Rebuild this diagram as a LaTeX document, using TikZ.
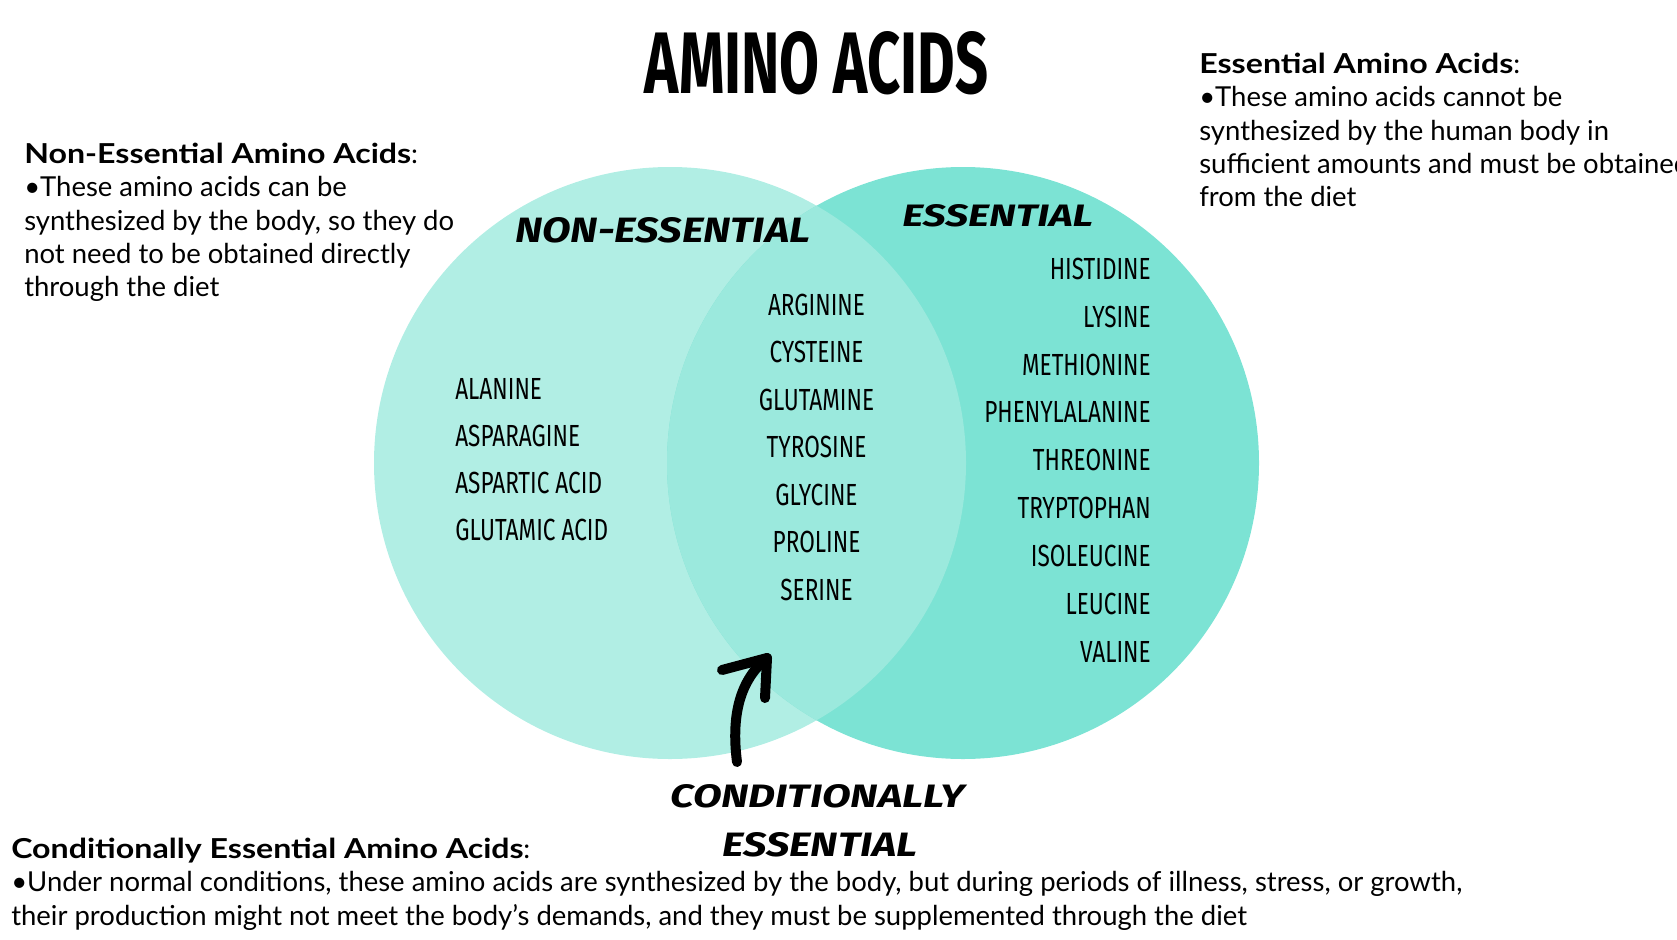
\documentclass[tikz,border=0pt]{standalone}
\usepackage{fontspec}
\setmainfont{Lato}
\newfontfamily\condfont{Fira Sans}
\newfontfamily\handfont{Fira Sans}
\usetikzlibrary{arrows.meta}
\definecolor{leftc}{HTML}{B1EEE4}
\definecolor{rightc}{HTML}{7CE3D4}
\definecolor{midc}{HTML}{9BE9DD}
\newdimen\pxu \pxu=0.75pt
\newcommand{\amino}[1]{\scalebox{0.74}[1]{#1}}
\newcommand{\hand}[3]{\resizebox{#1\pxu}{#2\pxu}{\handfont\bfseries\itshape #3}}
\newcommand{\hd}[1]{\scalebox{1.17}[1]{\textbf{#1}}}
\begin{document}
\begin{tikzpicture}[x=0.75pt,y=-0.75pt,
  venn/.style={circle, inner sep=0, minimum size=444pt},
  lst/.style={inner sep=0, font=\condfont\fontsize{22.9pt}{24pt}\selectfont},
  para/.style={inner sep=0, align=left, anchor=base west, font=\fontsize{20.6pt}{25pt}\selectfont},
  handlbl/.style={inner sep=0, anchor=south west},
  brush/.style={line width=7.5pt, line cap=round, line join=round, black}]
\useasboundingbox (0,0) rectangle (1677,939);
\begin{scope}
\clip (0,0) rectangle (1677,939);
% circles
\node[venn, fill=leftc] (L) at (670,463) {};
\node[venn, fill=rightc] (R) at (963,463) {};
\begin{scope}
  \clip (L.center) circle (296);
  \fill[midc] (R.center) circle (296);
\end{scope}

% title
\node[inner sep=0] (title) at (816.5,63) {\resizebox{343\pxu}{62\pxu}{\condfont\bfseries AMINO ACIDS}};

% side texts (anchored at the baseline of the last line)
\node[para] (nonesstxt) at (24,296.7)
  {\hd{Non-Essential Amino Acids}:\\
   •These amino acids can be\\
   synthesized by the body, so they do\\
   not need to be obtained directly\\
   through the diet};
\node[para] (esstxt) at (1199,206.7)
  {\hd{Essential Amino Acids}:\\
   •These amino acids cannot be\\
   synthesized by the human body in\\
   sufficient amounts and must be obtained\\
   from the diet};
\node[para] (condtxt) at (11,925)
  {\hd{Conditionally Essential Amino Acids}:\\
   •Under normal conditions, these amino acids are synthesized by the body, but during periods of illness, stress, or growth,\\
   their production might not meet the body’s demands, and they must be supplemented through the diet};

% handwritten labels
\node[handlbl] (nelbl) at (515,243) {\hand{295}{25}{NON-ESSENTIAL}};
\node[handlbl] (elbl) at (902,227) {\hand{191}{22}{ESSENTIAL}};
\node[handlbl] (clbl1) at (670,808) {\hand{295}{23}{CONDITIONALLY}};
\node[handlbl] (clbl2) at (722,857) {\hand{195}{24}{ESSENTIAL}};

% non-essential list
\node[lst, anchor=base west] (n1) at (455,399) {\amino{ALANINE}};
\node[lst, anchor=base west] (n2) at (455,446) {\amino{ASPARAGINE}};
\node[lst, anchor=base west] (n3) at (455,493) {\amino{ASPARTIC ACID}};
\node[lst, anchor=base west] (n4) at (455,540) {\amino{GLUTAMIC ACID}};

% conditionally essential list
\node[lst, anchor=base] (c1) at (816.5,315) {\amino{ARGININE}};
\node[lst, anchor=base] (c2) at (816.5,362.5) {\amino{CYSTEINE}};
\node[lst, anchor=base] (c3) at (816.5,410) {\amino{GLUTAMINE}};
\node[lst, anchor=base] (c4) at (816.5,457.5) {\amino{TYROSINE}};
\node[lst, anchor=base] (c5) at (816.5,505) {\amino{GLYCINE}};
\node[lst, anchor=base] (c6) at (816.5,552.5) {\amino{PROLINE}};
\node[lst, anchor=base] (c7) at (816.5,600) {\amino{SERINE}};

% essential list
\node[lst, anchor=base east] (e1) at (1151,279.3) {\amino{HISTIDINE}};
\node[lst, anchor=base east] (e2) at (1151,327.1) {\amino{LYSINE}};
\node[lst, anchor=base east] (e3) at (1151,375) {\amino{METHIONINE}};
\node[lst, anchor=base east] (e4) at (1151,422.8) {\amino{PHENYLALANINE}};
\node[lst, anchor=base east] (e5) at (1151,470.7) {\amino{THREONINE}};
\node[lst, anchor=base east] (e6) at (1151,518.5) {\amino{TRYPTOPHAN}};
\node[lst, anchor=base east] (e7) at (1151,566.4) {\amino{ISOLEUCINE}};
\node[lst, anchor=base east] (e8) at (1151,614.2) {\amino{LEUCINE}};
\node[lst, anchor=base east] (e9) at (1151,662) {\amino{VALINE}};

% arrow
\coordinate (atail) at (737,762);
\coordinate (atip) at (767,658);
\coordinate (barbL) at (722,670);
\coordinate (barbR) at (765,698);
\draw[brush] (atail) .. controls (731,715) and (740,680) .. (atip);
\draw[brush] (barbL) -- (atip) -- (barbR);
\end{scope}
\end{tikzpicture}
\end{document}
